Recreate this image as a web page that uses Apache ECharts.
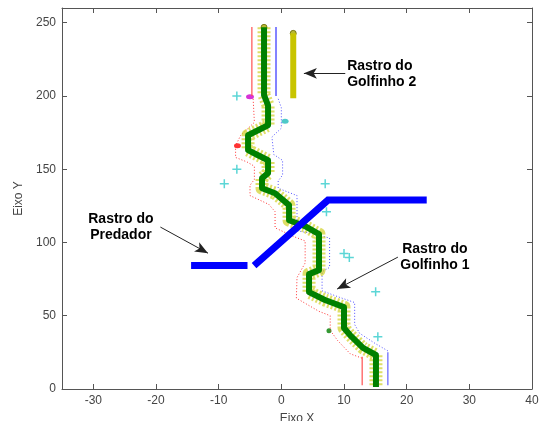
<!DOCTYPE html>
<html><head><meta charset="utf-8">
<script src="https://cdn.jsdelivr.net/npm/echarts@6/dist/echarts.min.js"></script>
<style>html,body{margin:0;padding:0;background:#fff}#c{width:540px;height:421px}</style>
</head><body><div id="c"></div>
<script>
// ---- data ----
const xTicks = [-30, -20, -10, 0, 10, 20, 30, 40];
const yTicks = [0, 50, 100, 150, 200, 250];
// Golfinho 1 track (x, y)
const golfinho1 = [[-2.76,246.8],[-2.76,200.5],[-2.12,193.6],[-2.12,180],[-3.72,176.6],[-5.31,173.2],[-5.31,163],[-3.72,159.5],[-2.12,156.1],[-2.12,147.3],[-3.08,143.9],[-3.08,137],[-1.0,133.6],[1.23,125.5],[1.23,115.2],[3.78,111.1],[6.01,105.7],[6.01,81.1],[4.42,78.4],[4.42,66.1],[6.97,60.7],[10.0,55.9],[10.0,41.6],[10.96,36.8],[13.03,28],[15.1,23.2],[15.1,1.4]];
// Golfinho 2 track
const golfinho2 = [[1.9,242.7],[1.9,198.4]];
// Predador track (two pieces)
const predadorA = [[-14.4,84.2],[-5.4,84.2]];
const predadorB = [[-4.35,84.2],[7.45,128.9],[23.2,128.9]];
// side trails
const redSolidTop = [[-4.7,247],[-4.7,200]];
const redSolidBottom = [[12.9,22],[12.9,2.5]];
const blueSolidTop = [[-0.85,247],[-0.85,200]];
const blueSolidBottom = [[17.0,25],[17.0,2.5]];
const redTrail = [[-4.5,198],[-4.3,182],[-6.5,173],[-7.3,166],[-7.3,158],[-5.5,155],[-4.3,152],[-4.3,143],[-5,139],[-5,132],[-2,126],[-1,121],[-1,110],[2,104],[3.8,101],[3.8,86],[2.5,76],[2.4,62],[6,53],[7.8,50],[7.8,40],[9,33],[11,24],[12.9,21]];
const blueTrail = [[-0.5,198],[0,192],[0,178],[-1.5,172],[-1.2,160],[0.2,156],[0.2,146],[-0.5,142],[-0.5,137],[2.5,132],[2.5,108],[5,106],[7.7,103],[7.7,83],[6.5,80],[6.5,67],[9,63],[11.7,59],[11.7,44],[12.5,38],[15,31],[17,26]];
// scattered markers
const cyanCrosses = [[-7.1,200],[-7.1,150],[-9.1,140],[7,140],[7.2,121],[10,92.5],[10.85,89.8],[15.05,66.3],[15.4,35.7]];
const magentaDots = [[-5,199.5]];
const cyanDots = [[0.6,182.7]];
const redDots = [[-7,166]];
const greenDots = [[7.6,39.8]];
// annotations (data coordinates)
const annoText = ['Rastro do\nGolfinho 2', 'Rastro do\nPredador', 'Rastro do\nGolfinho 1'];
const annoArrows = [
  [[10.2,215.4],[3.6,215.4]],
  [[-19.3,110.5],[-11.7,92.7]],
  [[18.6,90],[8.9,68.2]]
];

const chart = echarts.init(document.getElementById('c'), null, {renderer:'canvas'});
const axisCol = '#555';
const labelCol = '#444';
function lineSeries(data, color, width, extra) {
  return Object.assign({type:'line', data, symbol:'none', silent:true, animation:false,
    lineStyle:{color, width, cap:'butt', join:'miter'}}, extra || {});
}
const plus = 'path://M4,0h1.6v4h4v1.6h-4v4h-1.6v-4h-4v-1.6h4z';
const axLine = {show:true, onZero:false, lineStyle:{color:axisCol}};
chart.setOption({
  animation:false,
  grid:{left:62, right:8, top:8, bottom:32, containLabel:false, outerBoundsMode:'none'},
  xAxis:[{type:'value', min:-35, max:40, position:'bottom',
      name:'Eixo X', nameLocation:'middle', nameGap:24,
      nameTextStyle:{color:labelCol, fontSize:12, fontFamily:'Liberation Sans'},
      axisLine:axLine, splitLine:{show:false},
      axisTick:{show:true, inside:true, length:5, customValues:xTicks, lineStyle:{color:axisCol}},
      axisLabel:{customValues:xTicks, color:labelCol, fontSize:12, fontFamily:'Liberation Sans', margin:6}},
    {type:'value', min:-35, max:40, position:'top',
      axisLine:axLine, splitLine:{show:false},
      axisTick:{show:true, inside:true, length:5, customValues:xTicks, lineStyle:{color:axisCol}},
      axisLabel:{show:false}}],
  yAxis:[{type:'value', min:0, max:260, position:'left',
      name:'Eixo Y', nameLocation:'middle', nameGap:36, nameRotate:90,
      nameTextStyle:{color:labelCol, fontSize:12, fontFamily:'Liberation Sans'},
      axisLine:axLine, splitLine:{show:false},
      axisTick:{show:true, inside:true, length:5, customValues:yTicks, lineStyle:{color:axisCol}},
      axisLabel:{customValues:yTicks, color:labelCol, fontSize:12, fontFamily:'Liberation Sans', margin:6}},
    {type:'value', min:0, max:260, position:'right',
      axisLine:axLine, splitLine:{show:false},
      axisTick:{show:true, inside:true, length:5, customValues:yTicks, lineStyle:{color:axisCol}},
      axisLabel:{show:false}}],
  series:[
    lineSeries(redSolidTop, '#ff5050', 1.2),
    lineSeries(redSolidBottom, '#ff5050', 1.2),
    lineSeries(blueSolidTop, '#3030ff', 1.2),
    lineSeries(blueSolidBottom, '#6060ff', 1.2),
    lineSeries(redTrail, '#ff3030', 1, {lineStyle:{color:'#ff3030', width:1, type:[1,2]}}),
    lineSeries(blueTrail, '#4040ff', 1, {lineStyle:{color:'#5050ff', width:1, type:[1,2]}}),
    lineSeries(golfinho1, '#cccc00', 13, {lineStyle:{color:'#c8c800', width:13, opacity:0.6, type:[2,2], join:'round'}}),
    lineSeries(golfinho1, '#008000', 6, {lineStyle:{color:'#008000', width:6, join:'round'}}),
    lineSeries(golfinho2, '#c8c400', 6, {lineStyle:{color:'#c8c400', width:6, cap:'butt'}}),
    lineSeries(predadorA, '#0000ff', 7),
    lineSeries(predadorB, '#0000ff', 7, {markLine:{silent:true, animation:false, symbol:['none','arrow'], symbolSize:[8,13],
      lineStyle:{color:'#222', width:1, type:'solid'}, label:{show:false},
      data: annoArrows.map(a => [{coord:a[0]}, {coord:a[1]}])}}),
    {type:'scatter', data:cyanCrosses, symbol:plus, symbolSize:9, itemStyle:{color:'#33cccc'}, silent:true},
    {type:'scatter', data:magentaDots, symbol:'circle', symbolSize:[8,5], itemStyle:{color:'#cc00cc'}, silent:true},
    {type:'scatter', data:cyanDots, symbol:'circle', symbolSize:[7,5], itemStyle:{color:'#22bbbb'}, silent:true},
    {type:'scatter', data:redDots, symbol:'circle', symbolSize:[7,5], itemStyle:{color:'#ff0000'}, silent:true},
    {type:'scatter', data:greenDots, symbol:'circle', symbolSize:5, itemStyle:{color:'#008000'}, silent:true},
    {type:'scatter', data:[golfinho2[0], golfinho1[0]], symbol:'circle', symbolSize:6,
      itemStyle:{color:'#a8a800', borderColor:'#666600', borderWidth:1}, silent:true}
  ]
});
// annotation text, placed through the axes
const txtPos = [[10.5,214.7,'left'],[-25.6,110.5,'center'],[24.5,90,'center']];
chart.setOption({graphic: txtPos.map((p,i) => {
  const px = chart.convertToPixel({gridIndex:0}, [p[0], p[1]]);
  return {type:'text', x:px[0], y:px[1], silent:true,
    style:{text:annoText[i], fill:'#000', font:'bold 14px "Liberation Sans", Arial', textAlign:p[2], textVerticalAlign:'middle', lineHeight:16}};
})});
</script></body></html>
